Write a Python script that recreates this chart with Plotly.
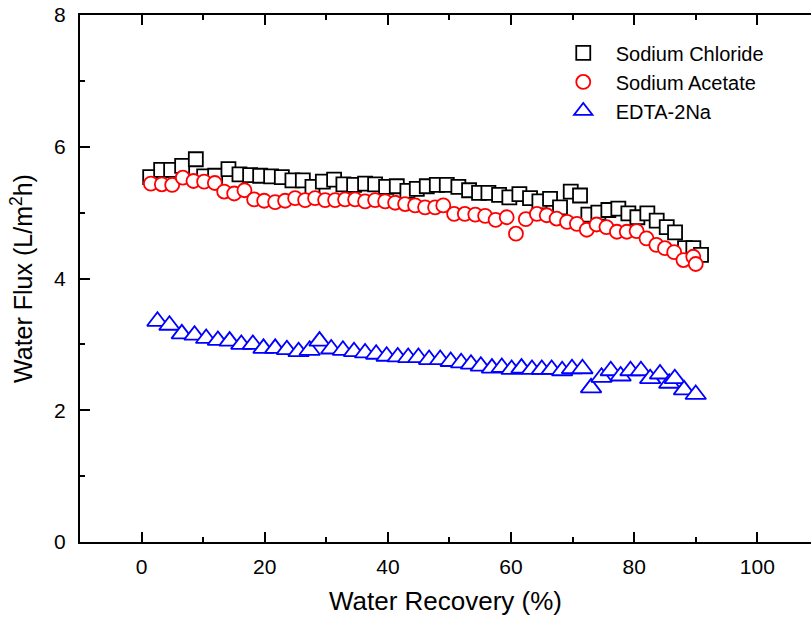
import plotly.graph_objects as go

# Sodium Chloride
nacl_x = [1.40, 3.18, 4.80, 6.59, 8.81, 10.16, 11.95, 14.11, 15.90, 17.63, 19.26, 21.04, 22.78,
          24.50, 26.19, 27.75, 29.44, 31.27, 32.78, 34.52, 36.30, 37.93, 39.71, 41.45, 43.17,
          44.70, 46.32, 47.95, 49.57, 51.45, 53.19, 54.81, 56.33, 58.06, 59.73, 61.36, 63.09,
          64.61, 66.34, 67.96, 69.70, 71.21, 72.56, 74.18, 75.81, 77.43, 79.06, 80.52, 82.14,
          83.66, 85.29, 86.64, 88.26, 89.61, 90.86]
nacl_y = [5.54, 5.65, 5.65, 5.71, 5.81, 5.55, 5.56, 5.66, 5.58, 5.57, 5.56, 5.55, 5.54,
          5.49, 5.49, 5.39, 5.47, 5.50, 5.43, 5.42, 5.44, 5.43, 5.39, 5.40, 5.33,
          5.36, 5.40, 5.42, 5.42, 5.39, 5.34, 5.30, 5.30, 5.27, 5.23, 5.28, 5.22,
          5.17, 5.21, 5.08, 5.32, 5.26, 4.97, 5.00, 5.04, 5.06, 4.99, 4.93, 4.99,
          4.88, 4.78, 4.70, 4.46, 4.46, 4.36]

# Sodium Acetate
naac_x = [1.51, 3.29, 4.97, 6.70, 8.43, 10.16, 11.90, 13.41, 15.04, 16.71, 18.28, 19.91, 21.69,
          23.31, 24.94, 26.56, 28.18, 29.81, 31.43, 33.05, 34.68, 36.30, 37.93, 39.55, 41.18,
          42.80, 44.42, 46.04, 47.67, 49.0, 50.76, 52.5, 54.2, 55.8, 57.5, 59.3, 60.8, 62.4,
          64.2, 65.8, 67.4, 69.1, 70.7, 72.3, 73.9, 75.5, 77.2, 78.8, 80.4, 82.0, 83.6, 85.0,
          86.5, 88.0, 89.6, 90.0]
naac_y = [5.44, 5.43, 5.42, 5.53, 5.48, 5.47, 5.45, 5.32, 5.29, 5.34, 5.20, 5.18, 5.16,
          5.18, 5.22, 5.19, 5.22, 5.19, 5.19, 5.20, 5.20, 5.17, 5.19, 5.17, 5.15,
          5.13, 5.11, 5.08, 5.08, 5.11, 4.98, 4.98, 4.97, 4.95, 4.89, 4.93, 4.68, 4.90,
          4.98, 4.96, 4.91, 4.86, 4.83, 4.74, 4.82, 4.78, 4.71, 4.71, 4.72, 4.61, 4.51, 4.46,
          4.40, 4.28, 4.33, 4.22]

# EDTA-2Na
edta_x = [2.58, 4.53, 6.54, 8.6, 10.49, 12.4, 14.3, 16.2, 18.07, 19.8, 21.7, 23.6, 25.5,
          27.3, 28.9, 30.8, 32.7, 34.5, 36.3, 38.1, 39.8, 41.6, 43.3, 44.96, 46.7, 48.5,
          50.2, 51.9, 53.5, 55.1, 56.9, 58.5, 60.1, 61.7, 63.4, 65.0, 66.6, 68.3, 69.9,
          71.6, 73.0, 74.7, 76.2, 77.8, 79.4, 81.1, 82.6, 84.2, 85.7, 86.6, 88.1, 90.0]
edta_y = [3.35, 3.29, 3.16, 3.14, 3.09, 3.06, 3.05, 3.00, 3.00, 2.94, 2.94, 2.92, 2.89,
          2.91, 3.05, 2.93, 2.91, 2.89, 2.87, 2.85, 2.82, 2.81, 2.80, 2.80, 2.77, 2.77,
          2.74, 2.72, 2.70, 2.67, 2.64, 2.65, 2.62, 2.64, 2.62, 2.62, 2.62, 2.60, 2.63,
          2.63, 2.34, 2.50, 2.60, 2.52, 2.60, 2.60, 2.48, 2.55, 2.41, 2.48, 2.31, 2.24]

x_ticks = [0, 20, 40, 60, 80, 100]
y_ticks = [0, 2, 4, 6, 8]

FONT = "Liberation Sans, Arial, sans-serif"

fig = go.Figure()
fig.add_trace(go.Scatter(x=nacl_x, y=nacl_y, mode="markers", name="Sodium Chloride",
                         marker=dict(symbol="square", size=14, color="white",
                                     line=dict(color="black", width=1.8))))
fig.add_trace(go.Scatter(x=naac_x, y=naac_y, mode="markers", name="Sodium Acetate",
                         marker=dict(symbol="circle", size=14, color="white",
                                     line=dict(color="red", width=1.8))))
fig.add_trace(go.Scatter(x=edta_x, y=edta_y, mode="markers", name="EDTA-2Na",
                         marker=dict(symbol="triangle-up", size=18, color="white",
                                     line=dict(color="blue", width=1.8))))

axis_common = dict(showgrid=False, zeroline=False, showline=True, linecolor="black",
                   linewidth=2, ticks="inside", tickcolor="black", tickwidth=2, ticklen=10,
                   tickfont=dict(family=FONT, size=21, color="black"))

fig.update_xaxes(range=[-10, 108.72], tickvals=x_ticks, mirror="ticks",
                 minor=dict(dtick=10, tick0=0, ticks="inside", ticklen=5, tickwidth=2, tickcolor="black"),
                 title=dict(text="Water Recovery (%)", font=dict(family=FONT, size=26, color="black"),
                            standoff=15),
                 ticklabelstandoff=5, **axis_common)
fig.update_yaxes(range=[0, 8], tickvals=y_ticks, mirror=False,
                 minor=dict(dtick=1, tick0=0, ticks="inside", ticklen=5, tickwidth=2, tickcolor="black"),
                 title=dict(text="Water Flux (L/m<sup>2</sup>h)", font=dict(family=FONT, size=25, color="black"),
                            standoff=14),
                 ticklabelstandoff=8, **axis_common)

fig.update_layout(width=811, height=623, margin=dict(l=80, r=0, t=15, b=81),
                  paper_bgcolor="white", plot_bgcolor="white",
                  font=dict(family=FONT, color="black"),
                  legend=dict(x=0.644, y=0.965, xanchor="left", yanchor="top",
                              bgcolor="rgba(0,0,0,0)", borderwidth=0, itemwidth=55,
                              font=dict(family=FONT, size=20, color="black"),
                              tracegroupgap=0, itemsizing="trace"))

fig.write_html("out.html")
